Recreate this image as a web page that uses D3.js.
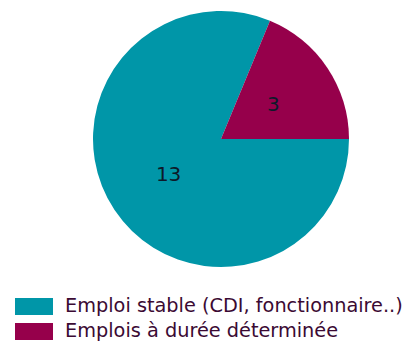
<!DOCTYPE html>
<html><head><meta charset="utf-8">
<script src="https://cdn.jsdelivr.net/npm/d3@7"></script>
<style>body{margin:0;background:#fff}svg{display:block}</style>
</head><body>
<svg id="c" width="405" height="341"></svg>
<script>
const categories = ["Emploi stable (CDI, fonctionnaire..)", "Emplois à durée déterminée"];
const values = [13, 3];
const colors = ["#0096A8", "#96004B"];

const svg = d3.select("#c");
const cx = 221, cy = 139, R = 128;
const pie = d3.pie().sort(null).startAngle(Math.PI/2).endAngle(Math.PI/2 + 2*Math.PI);
const arcs = pie(values);
const arc = d3.arc().innerRadius(0).outerRadius(R);
const labelArc = d3.arc().innerRadius(63).outerRadius(63);
const g = svg.append("g").attr("transform", `translate(${cx},${cy})`);
g.selectAll("path").data(arcs).join("path").attr("d", arc).attr("fill", (d,i)=>colors[i]);
g.selectAll("text").data(arcs).join("text")
  .attr("transform", d => `translate(${labelArc.centroid(d)})`)
  .attr("text-anchor","middle").attr("dy","0.36em")
  .style("font-family","'DejaVu Sans', Verdana, sans-serif").style("font-size","20px")
  .attr("fill","#0d1a2a")
  .text(d => d.data);

const leg = svg.append("g");
const rows = leg.selectAll("g").data(categories).join("g")
  .attr("transform", (d,i)=>`translate(15,${298 + i*25})`);
rows.append("rect").attr("width",38).attr("height",17).attr("fill",(d,i)=>colors[i]);
const txt = rows.append("text").attr("x",50).attr("y",14)
  .style("font-family","'DejaVu Sans', Verdana, sans-serif").style("font-size","20px")
  .attr("fill","#3b0a33").text(d=>d);
const w0 = txt.node().getComputedTextLength();
const fs = 20 * 338 / w0;
txt.style("font-size", fs.toFixed(2) + "px");
</script>
</body></html>
